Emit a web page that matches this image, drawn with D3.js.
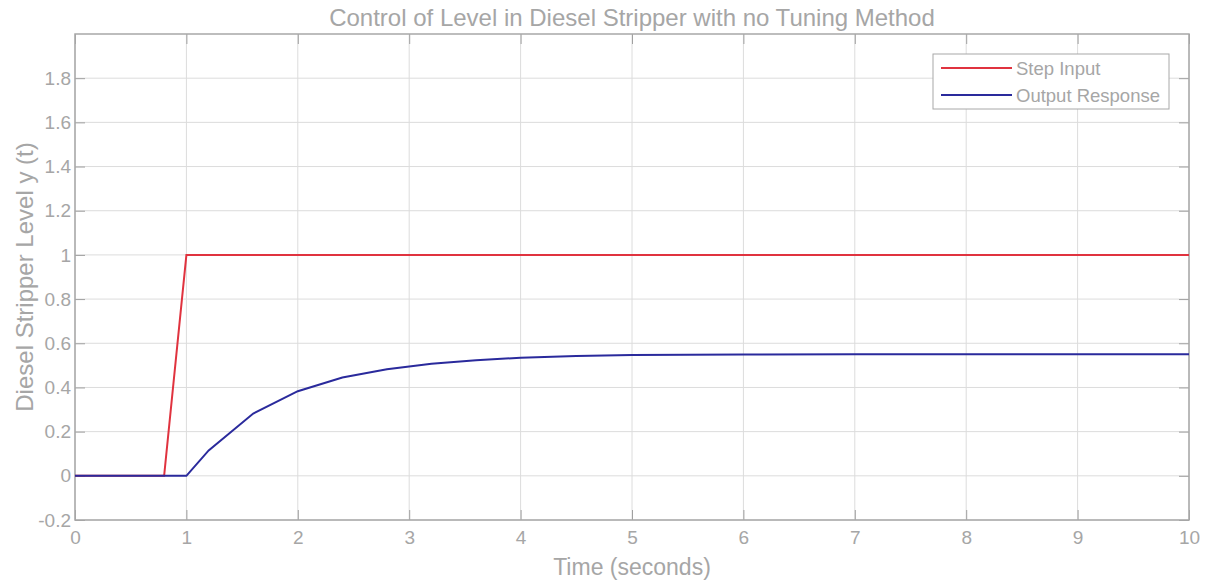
<!DOCTYPE html>
<html>
<head>
<meta charset="utf-8">
<script src="https://cdn.jsdelivr.net/npm/d3@7"></script>
<style>
  body { margin: 0; background: #fff; }
  text { font-family: "Liberation Sans", Arial, sans-serif; fill: #a6a6a6; }
</style>
</head>
<body>
<div id="chart"></div>
<script>
// step input (time, level)
var stepTime = [0, 0.8, 1, 10];
var stepLevel = [0, 0, 1, 1];

// output response
var respTime = [0, 1, 1.2, 1.6, 2, 2.4, 2.8, 3.2, 3.6, 4, 4.5, 5, 6, 7, 8, 9, 10];
var respLevel = [0, 0, 0.115, 0.282, 0.383, 0.445, 0.482, 0.507, 0.523, 0.535, 0.542, 0.547, 0.549, 0.55, 0.55, 0.55, 0.55];

var xTicks = [0, 1, 2, 3, 4, 5, 6, 7, 8, 9, 10];
var yTicks = [-0.2, 0, 0.2, 0.4, 0.6, 0.8, 1, 1.2, 1.4, 1.6, 1.8];
var seriesNames = ["Step Input", "Output Response"];
var seriesColors = ["#e0333f", "#2a2a9c"];

var svgWidth = 1209, svgHeight = 583;
var margin = { top: 34, right: 20, bottom: 63, left: 75 };
var width = svgWidth - margin.left - margin.right;
var height = svgHeight - margin.top - margin.bottom;

var svg = d3.select("#chart").append("svg")
    .attr("width", svgWidth)
    .attr("height", svgHeight);

var chartGroup = svg.append("g")
    .attr("transform", `translate(${margin.left}, ${margin.top})`);

var x = d3.scaleLinear().domain([0, 10]).range([0, width]);
var y = d3.scaleLinear().domain([-0.2, 2]).range([height, 0]);

// grid
chartGroup.selectAll(".vgrid").data(xTicks).enter().append("line")
    .attr("x1", d => x(d)).attr("x2", d => x(d))
    .attr("y1", 0).attr("y2", height)
    .attr("stroke", "#dcdcdc").attr("stroke-width", 1);
chartGroup.selectAll(".hgrid").data(yTicks).enter().append("line")
    .attr("x1", 0).attr("x2", width)
    .attr("y1", d => y(d)).attr("y2", d => y(d))
    .attr("stroke", "#dcdcdc").attr("stroke-width", 1);

// axes (ticks inward on all four sides)
function styleAxis(g) {
    g.select(".domain").remove();
    g.selectAll(".tick line").attr("stroke", "#a0a0a0");
    g.selectAll(".tick text").attr("fill", "#a6a6a6")
        .style("font-family", "Liberation Sans, Arial, sans-serif")
        .style("font-size", "19px");
}
var fmt = d => String(+d.toFixed(1));

chartGroup.append("g").attr("transform", `translate(0,${height})`)
    .call(d3.axisBottom(x).tickValues(xTicks).tickFormat(fmt).tickSizeInner(-10).tickPadding(11))
    .call(styleAxis);
chartGroup.append("g")
    .call(d3.axisTop(x).tickValues(xTicks).tickFormat("").tickSizeInner(-10))
    .call(styleAxis);
chartGroup.append("g")
    .call(d3.axisLeft(y).tickValues(yTicks).tickFormat(fmt).tickSizeInner(-10).tickPadding(4))
    .call(styleAxis);
chartGroup.append("g").attr("transform", `translate(${width},0)`)
    .call(d3.axisRight(y).tickValues(yTicks).tickFormat("").tickSizeInner(-10))
    .call(styleAxis);

chartGroup.append("rect")
    .attr("width", width).attr("height", height)
    .attr("fill", "none").attr("stroke", "#a8a8a8").attr("stroke-width", 1.5);

// lines
var line = d3.line().x(d => x(d[0])).y(d => y(d[1]));
var stepData = d3.zip(stepTime, stepLevel);
var respData = d3.zip(respTime, respLevel);

chartGroup.append("path").datum(stepData)
    .attr("d", line).attr("fill", "none")
    .attr("stroke", seriesColors[0]).attr("stroke-width", 2);
chartGroup.append("path").datum(respData)
    .attr("d", line).attr("fill", "none")
    .attr("stroke", seriesColors[1]).attr("stroke-width", 2);

// title and labels
svg.append("text")
    .attr("x", margin.left + width / 2).attr("y", 26)
    .attr("text-anchor", "middle").style("font-size", "24px")
    .text("Control of Level in Diesel Stripper with no Tuning Method");
svg.append("text")
    .attr("x", margin.left + width / 2).attr("y", 575)
    .attr("text-anchor", "middle").style("font-size", "23px")
    .text("Time (seconds)");
svg.append("text")
    .attr("transform", `translate(33, ${margin.top + height / 2}) rotate(-90)`)
    .attr("text-anchor", "middle").style("font-size", "24px")
    .text("Diesel Stripper Level y (t)");

// legend
var legend = svg.append("g").attr("transform", "translate(933,54)");
legend.append("rect")
    .attr("width", 236).attr("height", 55)
    .attr("fill", "#fff").attr("stroke", "#a8a8a8").attr("stroke-width", 1);
seriesNames.forEach(function(name, i) {
    var ly = 14 + i * 27;
    legend.append("line")
        .attr("x1", 8).attr("x2", 79).attr("y1", ly).attr("y2", ly)
        .attr("stroke", seriesColors[i]).attr("stroke-width", 2);
    legend.append("text")
        .attr("x", 83).attr("y", ly + 7)
        .style("font-size", "18.5px")
        .text(name);
});
</script>
</body>
</html>
